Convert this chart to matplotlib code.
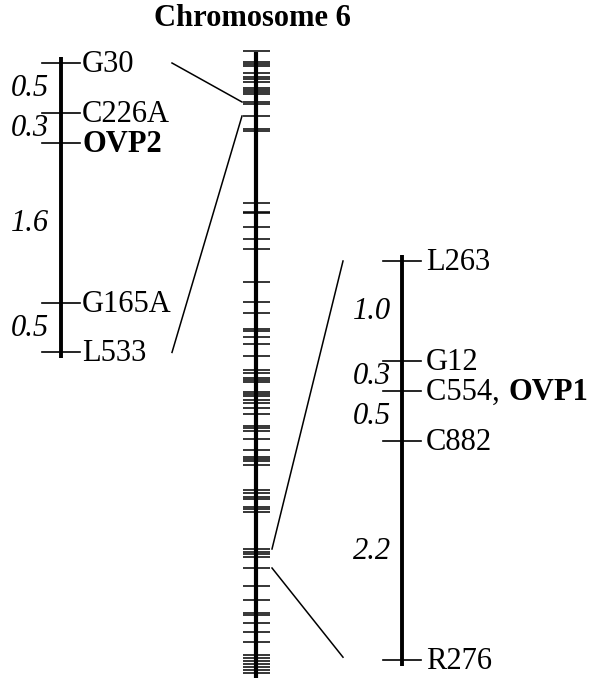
import matplotlib
matplotlib.use("Agg")
import matplotlib.pyplot as plt

# ---------------- data ----------------
title = "Chromosome 6"

# Left (OVP2) map: marker names and positions in cM from top marker
left_markers = ["G30", "C226A", "OVP2", "G165A", "L533"]
left_pos_cM = [0.0, 0.5, 0.8, 2.4, 2.9]
left_bold = [False, False, True, False, False]
left_intervals = ["0.5", "0.3", "1.6", "0.5"]

# Right (OVP1) map
right_markers = ["L263", "G12", "C554, ", "C882", "R276"]
right_pos_cM = [0.0, 1.0, 1.3, 1.8, 4.0]
right_extra_bold = [None, None, "OVP1", None, None]
right_intervals = ["1.0", "0.3", "0.5", "2.2"]

# Whole chromosome: marker positions (pixel rows of the schematic)
chrom_ticks = [51, 62, 64, 66, 73, 77, 79, 82, 88, 90, 92, 94, 102, 104, 116,
               129, 131, 203, 212, 213, 227, 239, 249, 282, 302, 313, 329,
               331, 337, 344, 356, 370, 373, 378, 380, 382, 392, 394, 396,
               400, 403, 408, 414, 426, 428, 431, 439, 450, 457, 459, 461,
               465, 490, 493, 497, 499, 507, 509, 512, 549, 552, 554, 557,
               568, 586, 600, 613, 615, 623, 632, 642, 655, 658, 661, 664,
               667, 670, 673]
# chromosome regions expanded by the two maps
left_region = (102, 116)
right_region = (549, 568)

# ---------------- layout ----------------
W, H = 590, 679
fig = plt.figure(figsize=(W / 100, H / 100), dpi=100)
ax = fig.add_axes([0, 0, 1, 1])
ax.set_xlim(0, W)
ax.set_ylim(H, 0)
ax.axis("off")

serif = ["Liberation Serif", "DejaVu Serif"]
fs = 22
scale = 99.8  # px per cM

# chromosome
cx = 256
ax.plot([cx, cx], [52, 678], color="black", lw=3.0, solid_capstyle="butt")
for y in chrom_ticks:
    ax.plot([cx - 13, cx + 14], [y, y], color="black", lw=1.1,
            solid_capstyle="butt")
ax.text(cx - 4, 18, title, ha="center", va="center", fontsize=fs,
        fontweight="bold", family=serif)


def draw_map(x0, y0, markers, pos, intervals, top_ext, bot_ext,
             lab_x, int_x, bold=None, extra=None):
    ys = [y0 + p * scale for p in pos]
    ax.plot([x0, x0], [ys[0] - top_ext, ys[-1] + bot_ext], color="black",
            lw=2.8, solid_capstyle="butt")
    for i, (m, y) in enumerate(zip(markers, ys)):
        ax.plot([x0 - 19, x0 + 19], [y, y], color="black", lw=1.2)
        w = "bold" if (bold and bold[i]) else "normal"
        t = ax.text(lab_x, y + 1.5, m, ha="left", va="center", fontsize=fs,
                    family=serif, fontweight=w)
        if extra and extra[i]:
            ax.annotate(extra[i], xy=(1, 0.5), xycoords=t,
                        xytext=(1, 0), textcoords="offset points",
                        ha="left", va="center", fontsize=fs,
                        family=serif, fontweight="bold")
    for k, lab in enumerate(intervals):
        ym = (ys[k] + ys[k + 1]) / 2
        ax.text(int_x, ym + 1, lab, ha="left", va="center", fontsize=fs,
                family=serif, style="italic")
    return ys


lys = draw_map(61, 63, left_markers, left_pos_cM, left_intervals, 6, 6,
               82, 11, bold=left_bold)
rys = draw_map(402, 261, right_markers, right_pos_cM, right_intervals, 6, 6,
               426, 353, extra=right_extra_bold)

# connector lines
ax.plot([172, cx - 14], [lys[0], left_region[0]], color="black", lw=1.1)
ax.plot([172, cx - 14], [lys[-1], left_region[1]], color="black", lw=1.1)
ax.plot([343, cx + 16], [rys[0], right_region[0]], color="black", lw=1.1)
ax.plot([343, cx + 16], [rys[-1] - 3, right_region[1]], color="black", lw=1.1)

fig.savefig("out.png", dpi=100, facecolor="white")
